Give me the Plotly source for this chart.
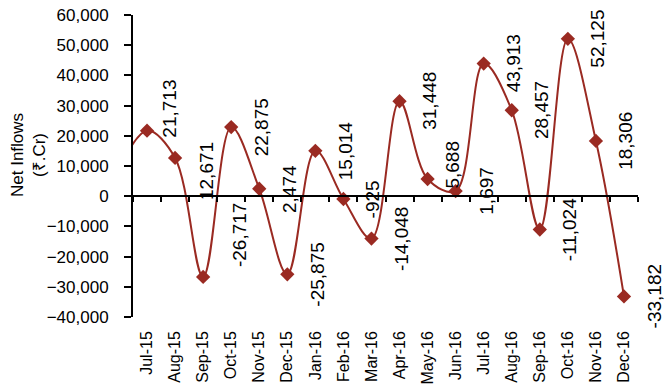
import plotly.graph_objects as go

# Monthly net inflows (Rs. crore)
months = ["Jul-15", "Aug-15", "Sep-15", "Oct-15", "Nov-15", "Dec-15",
          "Jan-16", "Feb-16", "Mar-16", "Apr-16", "May-16", "Jun-16",
          "Jul-16", "Aug-16", "Sep-16", "Oct-16", "Nov-16", "Dec-16"]
net_inflows = [21713, 12671, -26717, 22875, 2474, -25875,
               15014, -925, -14048, 31448, 5688, 1697,
               43913, 28457, -11024, 52125, 18306, -33182]

# Preceding month, only used to carry the smoothed line in from the left edge
lead_month = "Jun-15"
lead_value = 9000

y_range = [-40000, 60000]
y_dtick = 10000

RED = "#9A2A22"
TICK_FONT = dict(family="Liberation Sans, Arial, sans-serif", size=17, color="black")
XTICK_FONT = dict(family="Liberation Sans, Arial, sans-serif", size=16, color="black")
LABEL_FONT = dict(family="Liberation Sans Narrow, Arial Narrow, sans-serif", size=19, color="black")

cats = [lead_month] + months
vals = [lead_value] + net_inflows
x_range = [0.5, len(cats) - 0.5]

fig = go.Figure()
fig.add_trace(go.Scatter(
    x=cats, y=vals, xaxis="x", yaxis="y",
    mode="lines+markers",
    line=dict(color=RED, width=2, shape="spline", smoothing=1),
    marker=dict(symbol="diamond", size=11, color=RED),
    hoverinfo="x+y", showlegend=False,
))
# carrier for the axis drawn through zero
fig.add_trace(go.Scatter(
    x=cats, y=vals, xaxis="x2", yaxis="y",
    mode="lines", line=dict(width=0), opacity=0,
    hoverinfo="skip", showlegend=False,
))

# value labels, rotated, to the right of each marker
label_shift = {"Jul-15": (23, 22), "Aug-15": (32, -13),
               "Sep-15": (37, 42), "May-16": (24, 14)}
for m, v in zip(months, net_inflows):
    dx, dy = label_shift.get(m, (30, 0))
    fig.add_annotation(x=m, y=v, xref="x", yref="y", text=f"{v:,}",
                       textangle=-90, showarrow=False, font=LABEL_FONT,
                       xanchor="center", yanchor="middle", xshift=dx, yshift=dy)

# y-axis title (two lines)
fig.add_annotation(x=0, y=0.5, xref="paper", yref="paper",
                   text="Net Inflows<br>(₹.Cr)", textangle=-90, showarrow=False,
                   font=TICK_FONT, xanchor="center", yanchor="middle",
                   xshift=-105, yshift=11)

zero_pos = (0 - y_range[0]) / (y_range[1] - y_range[0])

fig.update_layout(
    width=665, height=385,
    margin=dict(l=133, r=27, t=15, b=68, autoexpand=False),
    paper_bgcolor="white", plot_bgcolor="white",
    xaxis=dict(type="category", categoryorder="array", categoryarray=cats,
               range=x_range, showline=False, showgrid=False, zeroline=False,
               ticks="", tickangle=-90, tickfont=XTICK_FONT, ticklabelstandoff=10,
               automargin=False),
    xaxis2=dict(type="category", categoryorder="array", categoryarray=cats,
                range=x_range, overlaying="x", anchor="free", position=zero_pos,
                showline=True, linewidth=2, linecolor="black",
                ticks="outside", tickson="boundaries", ticklen=5, tickwidth=2,
                tickcolor="black", showticklabels=False, showgrid=False,
                zeroline=False, automargin=False),
    yaxis=dict(range=y_range, dtick=y_dtick, tickformat=",",
               showline=True, linewidth=2, linecolor="black",
               ticks="outside", ticklen=7, tickwidth=2, tickcolor="black",
               showgrid=False, zeroline=False, tickfont=TICK_FONT,
               ticklabelstandoff=12, automargin=False),
)

fig.write_html("out.html")
